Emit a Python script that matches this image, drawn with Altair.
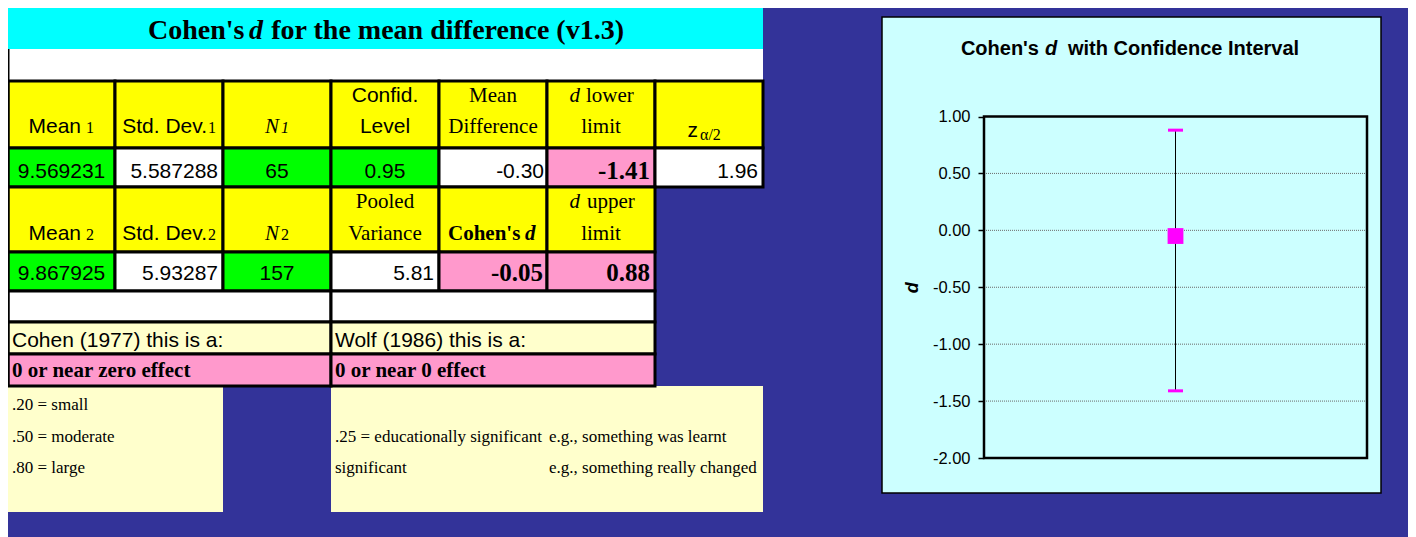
import altair as alt
import pandas as pd

# ---------------- values read from the sheet ----------------
SHEET_TITLE = ["Cohen's", "d", "for the mean difference (v1.3)"]
MEANS = ["9.569231", "9.867925"]
SDS = ["5.587288", "5.93287"]
NS = ["65", "157"]
CONF_LEVEL = "0.95"
MEAN_DIFF = "-0.30"
POOLED_VAR = "5.81"
Z_CRIT = "1.96"
STAT = ["Cohen's d"]
COHENS_D = [-0.05]
D_LOWER = [-1.41]
D_UPPER = [0.88]
COHEN_LABEL = "Cohen (1977) this is a:"
WOLF_LABEL = "Wolf (1986) this is a:"
COHEN_VERDICT = "0 or near zero effect"
WOLF_VERDICT = "0 or near 0 effect"
COHEN_SCALE = [".20 = small", ".50 = moderate", ".80 = large"]
WOLF_SCALE = [".25 = educationally significant", "significant"]
WOLF_EXAMPLES = ["e.g., something was learnt", "e.g., something really changed"]
CHART_TITLE = ["Cohen's", "d", "with Confidence Interval"]
Y_TICKS = [-2.0, -1.5, -1.0, -0.5, 0.0, 0.5, 1.0]

# ---------------- colours / fonts ----------------
BLUE = "#333399"
CYAN = "#00FFFF"
YELLOW = "#FFFF00"
GREEN = "#00FF00"
PINK = "#FF99CC"
WHITE = "#FFFFFF"
LIGHTY = "#FFFFCC"
PANEL = "#CCFFFF"
MAGENTA = "#FF00FF"
SANS = "Liberation Sans, Arial, sans-serif"
SERIF = "Liberation Serif, Times New Roman, serif"

# ---------------- layout (page pixels) ----------------
W, H = 1400, 529
PX = alt.Scale(domain=[8, 8 + W], range=[0, W], nice=False, zero=False)
PY = alt.Scale(domain=[8, 8 + H], range=[0, H], nice=False, zero=False)
CX = [8, 115, 223, 331, 439, 547, 655, 763]
ROWS = {"h1": (81, 148), "d1": (148, 187), "h2": (187, 252), "d2": (252, 291),
        "b2": (291, 322), "lab": (322, 354), "res": (354, 386)}
PLOT_L, PLOT_R, PLOT_T, PLOT_B = 984, 1367, 116.5, 458


def box(x0, x1, y0, y1, fill):
    return dict(x0=x0, x1=x1, y0=y0, y1=y1, fill=fill)


plain = [box(8, 763, 8, 49, CYAN), box(8, 763, 49, 81, WHITE),
         box(8, 223, 386, 512, LIGHTY), box(331, 763, 386, 512, LIGHTY)]

cells = []
for i in range(7):
    cells.append(box(CX[i], CX[i + 1], *ROWS["h1"], YELLOW))
for i, f in enumerate([GREEN, WHITE, GREEN, GREEN, WHITE, PINK, WHITE]):
    cells.append(box(CX[i], CX[i + 1], *ROWS["d1"], f))
for i in range(6):
    cells.append(box(CX[i], CX[i + 1], *ROWS["h2"], YELLOW))
for i, f in enumerate([GREEN, WHITE, GREEN, WHITE, PINK, PINK]):
    cells.append(box(CX[i], CX[i + 1], *ROWS["d2"], f))
for key, f in [("b2", WHITE), ("lab", LIGHTY), ("res", PINK)]:
    cells.append(box(8, 331, *ROWS[key], f))
    cells.append(box(331, 655, *ROWS[key], f))

texts = []


def put(x, y, s, size, font=SANS, weight="normal", style="normal", align="left"):
    texts.append(dict(x=x, y=y, text=s, size=size, font=font, weight=weight,
                      style=style, align=align))


# sheet title
put(148, 39, SHEET_TITLE[0], 28, SERIF, "bold")
put(249, 39, SHEET_TITLE[1], 28, SERIF, "bold", "italic")
put(624, 39, SHEET_TITLE[2], 28, SERIF, "bold", align="right")
# header row 1
L1, L2 = 102, 133
put(81, L2, "Mean", 21, align="right"); put(86, L2, "1", 16, SERIF)
put(207, L2, "Std. Dev.", 21, align="right"); put(208, L2, "1", 16, SERIF)
put(279, L2, "N", 21, SERIF, style="italic", align="right"); put(281, L2, "1", 16, SERIF, style="italic")
put(385, L1, "Confid.", 21, align="center"); put(385, L2, "Level", 21, align="center")
put(493, L1, "Mean", 21, SERIF, align="center"); put(493, L2, "Difference", 21, SERIF, align="center")
put(580, L1, "d", 21, SERIF, style="italic", align="right"); put(586, L1, "lower", 21, SERIF)
put(601, L2, "limit", 21, SERIF, align="center")
put(698, 137, "z", 21, align="right"); put(700, 140, "\u03b1/2", 16, SERIF)
# data row 1
put(61.5, 178, MEANS[0], 21, align="center")
put(218, 178, SDS[0], 21, align="right")
put(277, 178, NS[0], 21, align="center")
put(385, 178, CONF_LEVEL, 21, align="center")
put(544, 178, MEAN_DIFF, 21, align="right")
put(650, 179, f"{D_LOWER[0]:.2f}", 25, SERIF, "bold", align="right")
put(758, 178, Z_CRIT, 21, align="right")
# header row 2
M1, M2 = 208, 240
put(81, M2, "Mean", 21, align="right"); put(86, M2, "2", 16, SERIF)
put(207, M2, "Std. Dev.", 21, align="right"); put(208, M2, "2", 16, SERIF)
put(279, M2, "N", 21, SERIF, style="italic", align="right"); put(281, M2, "2", 16, SERIF)
put(385, M1, "Pooled", 21, SERIF, align="center"); put(385, M2, "Variance", 21, SERIF, align="center")
put(448, M2, "Cohen's", 21, SERIF, "bold"); put(525, M2, "d", 21, SERIF, "bold", "italic")
put(580, M1, "d", 21, SERIF, style="italic", align="right"); put(587, M1, "upper", 21, SERIF)
put(601, M2, "limit", 21, SERIF, align="center")
# data row 2
put(61.5, 280, MEANS[1], 21, align="center")
put(218, 280, SDS[1], 21, align="right")
put(277, 280, NS[1], 21, align="center")
put(434, 280, POOLED_VAR, 21, align="right")
put(543, 281, f"{COHENS_D[0]:.2f}", 25, SERIF, "bold", align="right")
put(650, 281, f"{D_UPPER[0]:.2f}", 25, SERIF, "bold", align="right")
# interpretation
put(12, 347, COHEN_LABEL, 21)
put(335, 347, WOLF_LABEL, 21)
put(12, 377, COHEN_VERDICT, 21, SERIF, "bold")
put(335, 377, WOLF_VERDICT, 21, SERIF, "bold")
for s, yy in zip(COHEN_SCALE, [410, 442, 473]):
    put(12, yy, s, 17, SERIF)
for s, yy in zip(WOLF_SCALE, [442, 473]):
    put(335, yy, s, 17, SERIF)
for s, yy in zip(WOLF_EXAMPLES, [442, 473]):
    put(549, yy, s, 17, SERIF)
# chart title
put(1039, 55, CHART_TITLE[0], 20, SANS, "bold", align="right")
put(1045, 55, CHART_TITLE[1], 20, SANS, "bold", "italic")
put(1068, 55, CHART_TITLE[2], 20, SANS, "bold")


def xq(f):
    return alt.X(f"{f}:Q", scale=PX, axis=None)


def yq(f):
    return alt.Y(f"{f}:Q", scale=PY, axis=None)


def rect_layer(rows, **mk):
    return alt.Chart(pd.DataFrame(rows)).mark_rect(**mk).encode(
        x=xq("x0"), x2="x1", y=yq("y0"), y2="y1",
        color=alt.Color("fill:N", scale=None))


layers = []
layers.append(rect_layer(plain))
layers.append(rect_layer(cells, stroke="black", strokeWidth=3))
layers.append(alt.Chart(pd.DataFrame([dict(x=8, y0=49, y1=386)])).mark_rule(
    color="black", strokeWidth=3).encode(x=xq("x"), y=yq("y0"), y2="y1"))
layers.append(rect_layer([box(882, 1381, 17, 493, PANEL)], stroke="black", strokeWidth=1.5))

# ---------------- the d chart ----------------
YD = alt.Scale(domain=[-2, 1], range=[PLOT_B - 8, PLOT_T - 8], nice=False, zero=False)
XD = alt.Scale(type="point", range=[PLOT_L - 8, PLOT_R - 8])
ci = pd.DataFrame({"stat": STAT, "d": COHENS_D, "lo": D_LOWER, "hi": D_UPPER})
grid = pd.DataFrame({"v": Y_TICKS[1:-1]})

layers.append(alt.Chart(grid).mark_rule(color="#6a6a6a", strokeWidth=1, strokeDash=[1, 1]).encode(
    y=alt.Y("v:Q", scale=YD, axis=None),
    x=alt.value(PLOT_L - 8), x2=alt.value(PLOT_R - 8)))

axis = alt.Axis(orient="left", offset=-(PLOT_L - 8), values=Y_TICKS, zindex=2,
                labelExpr="replace(format(datum.value, '.2f'), '\u2212', '-')",
                labelFont=SANS, labelFontSize=16.5, labelColor="black", labelPadding=8,
                labelOverlap=False, labelFlush=False,
                tickSize=6, tickColor="black", tickWidth=1.5, domain=False, grid=False,
                title="d", titleFont=SANS, titleFontSize=18, titleFontWeight="bold",
                titleFontStyle="italic", titleColor="black", titlePadding=11)

layers.append(alt.Chart(ci).mark_rule(color="black", strokeWidth=1).encode(
    x=alt.X("stat:N", scale=XD, axis=None),
    y=alt.Y("lo:Q", scale=YD, axis=axis), y2="hi:Q"))
for f in ["lo", "hi"]:
    layers.append(alt.Chart(ci).mark_tick(color=MAGENTA, thickness=3, size=15, opacity=1).encode(
        x=alt.X("stat:N", scale=XD, axis=None),
        y=alt.Y(f"{f}:Q", scale=YD, axis=None)))
layers.append(alt.Chart(ci).mark_square(color=MAGENTA, size=250, opacity=1, filled=True).encode(
    x=alt.X("stat:N", scale=XD, axis=None),
    y=alt.Y("d:Q", scale=YD, axis=None)))

layers.append(rect_layer([box(PLOT_L, PLOT_R, PLOT_T, PLOT_B, "#000000")],
                         fillOpacity=0, stroke="black", strokeWidth=2.5))

# ---------------- texts ----------------
tdf = pd.DataFrame(texts)
for (font, weight, style, align), g in tdf.groupby(["font", "weight", "style", "align"]):
    layers.append(alt.Chart(g.reset_index(drop=True)).mark_text(
        font=font, fontWeight=weight, fontStyle=style, align=align,
        baseline="alphabetic", color="black").encode(
        x=xq("x"), y=yq("y"), text="text:N",
        size=alt.Size("size:Q", scale=None)))

chart = alt.layer(*layers).resolve_scale(x="independent", y="independent").properties(
    width=W, height=H, padding=0, background=BLUE,
    autosize=alt.AutoSizeParams(type="none"),
).configure_view(stroke=None)

chart.save("out.html", embed_options={"renderer": "svg", "actions": False})
